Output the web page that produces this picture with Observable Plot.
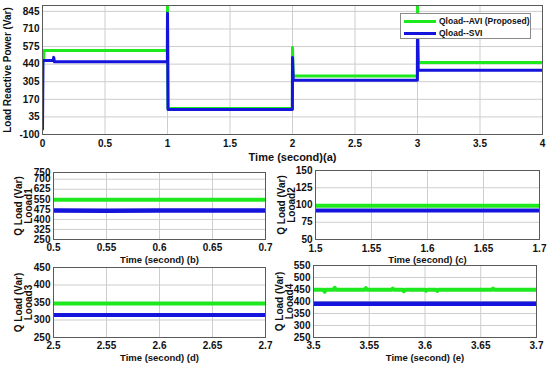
<!DOCTYPE html>
<html><head><meta charset="utf-8">
<script src="https://cdn.jsdelivr.net/npm/d3@7"></script>
<script src="https://cdn.jsdelivr.net/npm/@observablehq/plot@0.6"></script>
<style>
body{margin:0;background:#fff;}
#fig{position:relative;width:550px;height:367px;overflow:hidden;background:#fff;font-family:"Liberation Sans",Arial,sans-serif;}
.panel{position:absolute;}
#legend{position:absolute;left:400px;top:13px;width:129px;height:24px;border:1px solid #8a8a8a;background:#fff;font-weight:bold;font-size:8.5px;color:#111;}
#legend .row{position:absolute;left:0;height:12px;width:129px;}
#legend .sw{position:absolute;left:3px;top:5px;width:32px;height:2.5px;}
#legend .lb{position:absolute;left:38px;top:0;line-height:12px;white-space:nowrap;}
</style></head><body><div id="fig"></div>
<script>
// ---------- data ----------
const seriesNames = ["Qload--AVI (Proposed)", "Qload--SVI"];
const seriesColors = ["#1ee81e", "#1414dc"];

// (a) full run 0-4 s
const mainXTicks = [0, 0.5, 1, 1.5, 2, 2.5, 3, 3.5, 4];
const mainYTicks = [-100, 35, 170, 305, 440, 575, 710, 845];
const aviTime = [0.008, 0.012, 0.999, 1.0, 1.004, 1.999, 2.0, 2.006, 2.999, 3.0, 3.006, 4.0];
const aviQ    = [460,   545,   545,   900, 100,   100,   568, 349,   349,   900, 452,   452];
const sviTime = [0, 0.004, 0.085, 0.09, 0.095, 0.999, 1.0, 1.004, 1.999, 2.0, 2.006, 2.999, 3.0, 3.006, 4.0];
const sviQ    = [-60, 468, 468,   492,  459,   459,   830, 92,    92,    490, 316,   316,   681, 393,   393];

// (b) Load1 zoom 0.5-0.7 s
const bXTicks = [0.5, 0.55, 0.6, 0.65, 0.7];
const bYTicks = [250, 325, 400, 475, 550, 625, 700, 750];
const bTime = [0.5, 0.55, 0.6, 0.65, 0.7];
const bAvi  = [546, 546, 546, 546, 546];
const bSvi  = [466, 465, 466, 466, 466];

// (c) Load2 zoom 1.5-1.7 s
const cXTicks = [1.5, 1.55, 1.6, 1.65, 1.7];
const cYTicks = [50, 75, 100, 125, 150];
const cTime = [1.5, 1.55, 1.6, 1.65, 1.7];
const cAvi  = [99, 99, 99, 99, 99];
const cSvi  = [92, 92, 92, 92, 92];

// (d) Load3 zoom 2.5-2.7 s
const dXTicks = [2.5, 2.55, 2.6, 2.65, 2.7];
const dYTicks = [250, 300, 350, 400, 450];
const dTime = [2.5, 2.55, 2.6, 2.65, 2.7];
const dAvi  = [347, 347, 347, 347, 347];
const dSvi  = [314, 314, 314, 314, 314];

// (e) Load4 zoom 3.5-3.7 s
const eXTicks = [3.5, 3.55, 3.6, 3.65, 3.7];
const eYTicks = [250, 300, 350, 400, 450, 500, 550];
const eAviTime = [3.5, 3.509, 3.510, 3.511, 3.518, 3.519, 3.520, 3.546, 3.547, 3.548, 3.57, 3.571, 3.572, 3.58, 3.581, 3.582, 3.60, 3.601, 3.602, 3.61, 3.611, 3.612, 3.66, 3.661, 3.662, 3.7];
const eAvi     = [449, 449, 441, 449, 449, 457, 449, 449, 456, 449, 449, 454, 449, 449, 443, 449, 449, 445, 449, 449, 444, 449, 449, 454, 449, 449];
const eSviTime = [3.5, 3.6, 3.7];
const eSvi     = [391, 391, 391];

// ---------- drawing ----------
const fig = document.getElementById("fig");
const toRows = (ts, vs) => ts.map((t, i) => ({t, v: vs[i]}));
const fmt = d => String(d);

function panel(o) {
  const marks = [
    Plot.gridX({ticks: o.xTicks, stroke: "#cdcdcd", strokeOpacity: 1}),
    Plot.gridY({ticks: o.yTicks, stroke: "#cdcdcd", strokeOpacity: 1}),
    Plot.axisX({ticks: o.xTicks, tickSize: 0, tickPadding: o.xPad, tickFormat: fmt, label: null}),
    Plot.axisY({ticks: o.yTicks, tickSize: 0, tickPadding: 3, tickFormat: fmt, label: null}),
    ...o.series.map(s => Plot.line(s.rows, {x: "t", y: "v", stroke: s.color, strokeWidth: s.sw, clip: true})),
    Plot.frame({stroke: "#5a5a5a"}),
    Plot.text([o.xTitle], {text: d => d, frameAnchor: "bottom", dy: o.xTitleDy, lineAnchor: "middle", fontSize: o.xTitleSize, fill: "#111"}),
    ...o.yTitles.map((t, i) => Plot.text([t], {text: d => d, frameAnchor: "left", dx: o.yTitleDx[i], rotate: -90, lineAnchor: "middle", textAnchor: "middle", fontSize: o.yTitleSize, fill: "#111"}))
  ];
  const svg = Plot.plot({
    width: o.width, height: o.height,
    marginLeft: o.m[0], marginRight: o.m[1], marginTop: o.m[2], marginBottom: o.m[3],
    x: {domain: o.xDomain},
    y: {domain: o.yDomain},
    style: {fontFamily: "'Liberation Sans', Arial, sans-serif", fontSize: "10px", fontWeight: "bold", color: "#111", background: "transparent", overflow: "visible"},
    marks
  });
  const div = document.createElement("div");
  div.className = "panel";
  div.style.left = o.left + "px";
  div.style.top = o.top + "px";
  div.style.width = o.width + "px";
  div.appendChild(svg);
  fig.appendChild(div);
}

const G = seriesColors[0], B = seriesColors[1];

panel({left: 0, top: 0, width: 550, height: 167, m: [42, 8, 5, 33],
  xDomain: [0, 4], yDomain: [-100, 890], xTicks: mainXTicks, yTicks: mainYTicks, xPad: 5,
  series: [{rows: toRows(aviTime, aviQ), color: G, sw: 3}, {rows: toRows(sviTime, sviQ), color: B, sw: 3}],
  xTitle: "Time (second)(a)", xTitleDy: 23, xTitleSize: 11,
  yTitles: ["Load Reactive Power (Var)"], yTitleDx: [-35], yTitleSize: 10});

panel({left: 0, top: 165, width: 275, height: 102, m: [53, 10, 7, 28],
  xDomain: [0.5, 0.7], yDomain: [250, 750], xTicks: bXTicks, yTicks: bYTicks, xPad: 4,
  series: [{rows: toRows(bTime, bAvi), color: G, sw: 4}, {rows: toRows(bTime, bSvi), color: B, sw: 4.5}],
  xTitle: "Time (second) (b)", xTitleDy: 20, xTitleSize: 9.5,
  yTitles: ["Q Load (Var)", "Looad1"], yTitleDx: [-35, -25], yTitleSize: 10});

panel({left: 275, top: 165, width: 275, height: 102, m: [40, 11, 5, 28],
  xDomain: [1.5, 1.7], yDomain: [50, 150], xTicks: cXTicks, yTicks: cYTicks, xPad: 5,
  series: [{rows: toRows(cTime, cAvi), color: G, sw: 4}, {rows: toRows(cTime, cSvi), color: B, sw: 4}],
  xTitle: "Time (second) (c)", xTitleDy: 20, xTitleSize: 9.5,
  yTitles: ["Q Load (Var)", "Looad2"], yTitleDx: [-34, -24], yTitleSize: 10});

panel({left: 0, top: 258, width: 275, height: 109, m: [53, 10, 9, 30],
  xDomain: [2.5, 2.7], yDomain: [250, 450], xTicks: dXTicks, yTicks: dYTicks, xPad: 4,
  series: [{rows: toRows(dTime, dAvi), color: G, sw: 4}, {rows: toRows(dTime, dSvi), color: B, sw: 4}],
  xTitle: "Time (second) (d)", xTitleDy: 20, xTitleSize: 9.5,
  yTitles: ["Q Load (Var)", "Looad3"], yTitleDx: [-35, -25], yTitleSize: 10});

panel({left: 275, top: 258, width: 275, height: 109, m: [38, 14, 7, 30],
  xDomain: [3.5, 3.7], yDomain: [250, 550], xTicks: eXTicks, yTicks: eYTicks, xPad: 4,
  series: [{rows: toRows(eAviTime, eAvi), color: G, sw: 4}, {rows: toRows(eSviTime, eSvi), color: B, sw: 4.5}],
  xTitle: "Time (second) (e)", xTitleDy: 20, xTitleSize: 9.5,
  yTitles: ["Q Load (Var)", "Looad4"], yTitleDx: [-34, -24], yTitleSize: 10});

// legend
const leg = document.createElement("div");
leg.id = "legend";
seriesNames.forEach((name, i) => {
  const row = document.createElement("div");
  row.className = "row";
  row.style.top = (1 + 12 * i) + "px";
  const sw = document.createElement("span");
  sw.className = "sw";
  sw.style.background = seriesColors[i];
  const lb = document.createElement("span");
  lb.className = "lb";
  lb.textContent = name;
  row.appendChild(sw); row.appendChild(lb);
  leg.appendChild(row);
});
fig.appendChild(leg);
</script>
</body></html>
